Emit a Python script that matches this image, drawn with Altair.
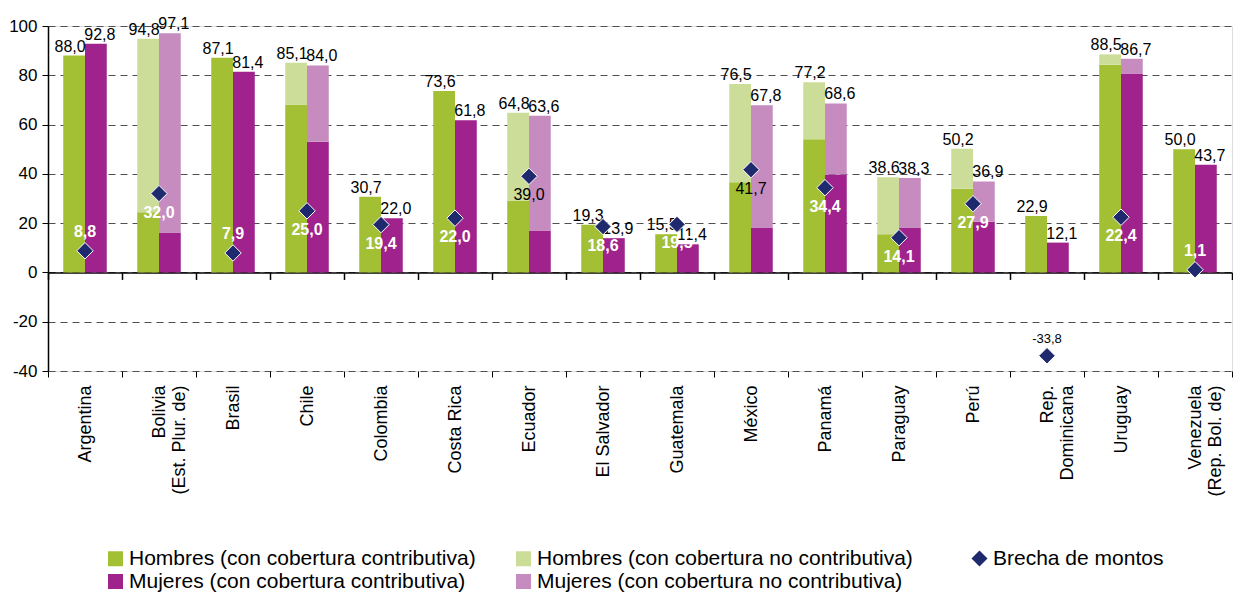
import json
import altair as alt
import pandas as pd

# ---------------- data ----------------
paises = ["Argentina", "Bolivia\n(Est. Plur. de)", "Brasil", "Chile", "Colombia", "Costa Rica",
          "Ecuador", "El Salvador", "Guatemala", "México", "Panamá", "Paraguay", "Perú",
          "Rep.\nDominicana", "Uruguay", "Venezuela\n(Rep. Bol. de)"]
hombres_total = [88.0, 94.8, 87.1, 85.1, 30.7, 73.6, 64.8, 19.3, 15.5, 76.5, 77.2, 38.6, 50.2, 22.9, 88.5, 50.0]
hombres_contrib = [88.0, 24.4, 87.1, 68.0, 30.7, 73.6, 29.1, 19.3, 15.5, 36.6, 54.0, 15.5, 34.0, 22.9, 84.3, 50.0]
mujeres_total = [92.8, 97.1, 81.4, 84.0, 22.0, 61.8, 63.6, 13.9, 11.4, 67.8, 68.6, 38.3, 36.9, 12.1, 86.7, 43.7]
mujeres_contrib = [92.8, 16.2, 81.4, 53.0, 22.0, 61.8, 17.0, 13.9, 11.4, 18.2, 39.7, 18.2, 20.6, 12.1, 80.7, 43.7]
brecha = [8.8, 32.0, 7.9, 25.0, 19.4, 22.0, 39.0, 18.6, 19.5, 41.7, 34.4, 14.1, 27.9, -33.8, 22.4, 1.1]

s_h_c = "Hombres (con cobertura contributiva)"
s_h_nc = "Hombres (con cobertura no contributiva)"
s_m_c = "Mujeres (con cobertura contributiva)"
s_m_nc = "Mujeres (con cobertura no contributiva)"
# legend fills column by column: order chosen so rows read Hombres / Mujeres
series = [s_h_c, s_m_c, s_h_nc, s_m_nc]
colores = ["#A3C034", "#A0228D", "#CCDC99", "#C78CBF"]
serie_brecha = "Brecha de montos"
dark_paises = ["Ecuador", "México", "Rep.\nDominicana"]

rows = []
for i, p in enumerate(paises):
    rows.append(dict(pais=p, sexo="Hombres", serie=s_h_c, y0=0.0, y1=hombres_contrib[i]))
    rows.append(dict(pais=p, sexo="Hombres", serie=s_h_nc, y0=hombres_contrib[i], y1=hombres_total[i]))
    rows.append(dict(pais=p, sexo="Mujeres", serie=s_m_c, y0=0.0, y1=mujeres_contrib[i]))
    rows.append(dict(pais=p, sexo="Mujeres", serie=s_m_nc, y0=mujeres_contrib[i], y1=mujeres_total[i]))
bars_df = pd.DataFrame(rows)
tot_df = pd.DataFrame({"pais": paises * 2,
                       "sexo": ["Hombres"] * len(paises) + ["Mujeres"] * len(paises),
                       "total": hombres_total + mujeres_total})
gap_df = pd.DataFrame({"pais": paises, "brecha": brecha, "serie": [serie_brecha] * len(paises)})

# ---------------- layout ----------------
W, H = 1184, 345
YMIN, YMAX = -40, 100
FONT = "Liberation Sans"
fmt = "replace(replace(format({f}, '.1f'), '.', ','), '\u2212', '-')"

yscale = alt.Scale(domain=[YMIN, YMAX], nice=False, zero=False)
yaxis = alt.Axis(values=list(range(YMIN, YMAX + 1, 20)), title=None, grid=True, gridColor="#505050",
                 gridDash=[7, 5], domainColor="black", domainWidth=1.5, tickColor="black", tickSize=6,
                 labelFontSize=17, labelColor="black", labelPadding=5, labelExpr="toString(datum.value)")
xscale = alt.Scale(paddingInner=0, paddingOuter=0)
xoff = alt.XOffset("sexo:N", sort=["Hombres", "Mujeres"],
                   scale=alt.Scale(domain=["Hombres", "Mujeres"], paddingInner=0, paddingOuter=0.7))

zero_axis = alt.Axis(orient="bottom", title=None, labels=False, ticks=True, tickBand="extent", tickSize=7,
                     tickColor="black", tickWidth=1.5, domain=True, domainColor="black", domainWidth=1.5,
                     grid=False, offset=-H * (0 - YMIN) / (YMAX - YMIN))
label_axis = alt.Axis(orient="bottom", title=None, labelAngle=-90, labelFontSize=18, labelColor="black",
                      labelPadding=8, labelExpr="split(datum.label, '\\n')", labelLineHeight=20,
                      labelLimit=0, tickBand="extent", tickSize=6, tickColor="black", domain=False,
                      grid=False)


def Y(field):
    return alt.Y(field, scale=yscale, axis=yaxis)


bars = alt.Chart(bars_df).mark_bar().encode(
    x=alt.X("pais:N", sort=paises, scale=xscale, axis=zero_axis),
    xOffset=xoff,
    y=Y("y0:Q"),
    y2="y1:Q",
    color=alt.Color("serie:N", scale=alt.Scale(domain=series, range=colores),
                    legend=alt.Legend(title=None, orient="none", legendX=57, legendY=522, columns=2,
                                      symbolType="square", symbolSize=225, symbolStrokeWidth=0,
                                      columnPadding=37, rowPadding=1, labelOffset=3)),
)


def total_layer(sexo, dx):
    return alt.Chart(tot_df).transform_filter(alt.datum.sexo == sexo).transform_calculate(
        lab=fmt.format(f="datum.total")
    ).mark_text(baseline="bottom", dy=-1, dx=dx, fontSize=16, color="black", font=FONT).encode(
        x=alt.X("pais:N", sort=paises, scale=xscale, axis=None),
        xOffset=xoff,
        y=Y("total:Q"),
        text="lab:N",
    )


diamonds = alt.Chart(gap_df).mark_point(filled=True, size=270, fill="#1F2A6E", stroke="white",
                                        strokeWidth=1, opacity=1).encode(
    x=alt.X("pais:N", sort=paises, scale=xscale, axis=label_axis),
    y=Y("brecha:Q"),
    shape=alt.Shape("serie:N", scale=alt.Scale(domain=[serie_brecha], range=["diamond"]),
                    legend=alt.Legend(title=None, orient="none", legendX=921, legendY=522,
                                      symbolSize=256, symbolFillColor="#1F2A6E", symbolStrokeColor="white",
                                      symbolStrokeWidth=0, labelOffset=3)),
)


def gap_labels(test, color, weight, dy, size):
    return alt.Chart(gap_df).transform_calculate(
        dark=f"indexof({json.dumps(dark_paises)}, datum.pais) >= 0",
        lab=fmt.format(f="datum.brecha"),
    ).transform_filter(test).mark_text(
        color=color, fontWeight=weight, dy=dy, fontSize=size, font=FONT, baseline="middle"
    ).encode(
        x=alt.X("pais:N", sort=paises, scale=xscale, axis=None),
        y=Y("brecha:Q"),
        text="lab:N",
    )


layers = [
    bars,
    total_layer("Hombres", -4),
    total_layer("Mujeres", 4),
    diamonds,
    gap_labels("!datum.dark && datum.brecha >= 10", "white", "bold", 19, 16),
    gap_labels("!datum.dark && datum.brecha < 10", "white", "bold", -19, 16),
    gap_labels("datum.dark && datum.brecha >= 10", "black", "normal", 19, 16),
    gap_labels("datum.dark && datum.brecha < 10", "black", "normal", -17, 13),
]

chart = alt.layer(*layers).resolve_axis(x="independent").properties(
    width=W, height=H, padding={"left": 0, "top": 8, "right": 0, "bottom": 0}
).configure_view(strokeWidth=0, stroke="transparent").configure(font=FONT).configure_legend(
    labelFont=FONT, labelFontSize=21, labelColor="black", labelLimit=0, padding=0
).configure_axis(labelFont=FONT)

chart.save("out.html", embed_options={"renderer": "svg", "actions": False})
